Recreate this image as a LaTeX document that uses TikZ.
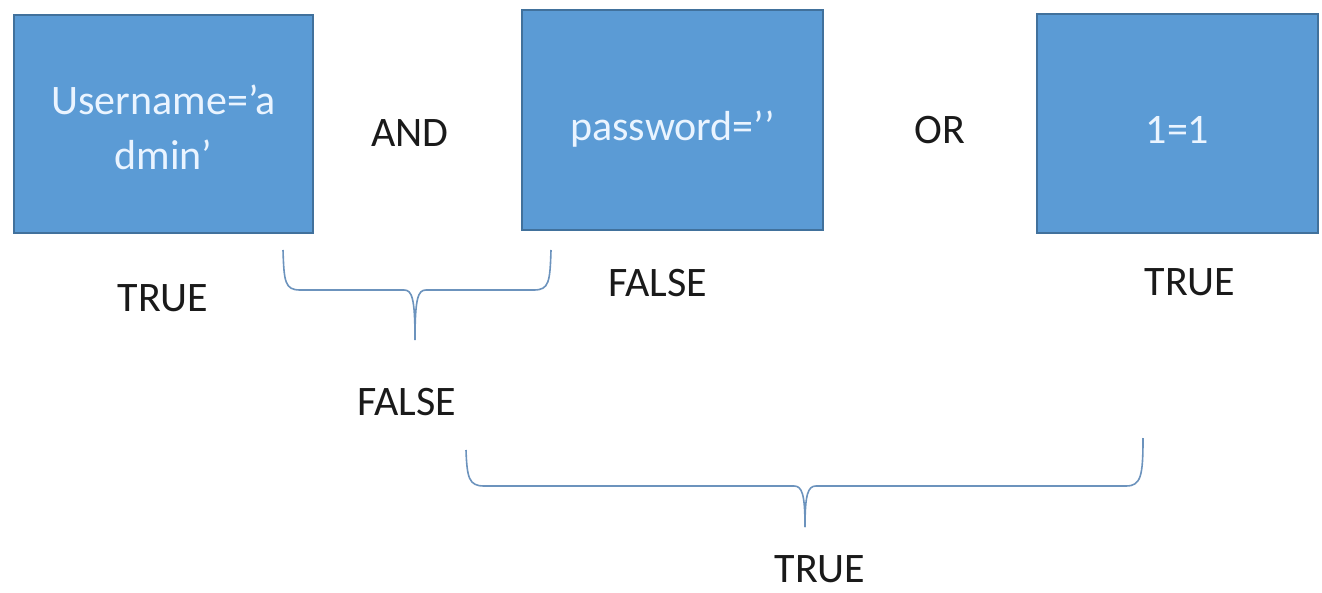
\documentclass[tikz,border=0pt]{standalone}
\usepackage{fontspec}
\setmainfont{Carlito}
\definecolor{boxfill}{HTML}{5B9BD5}
\definecolor{boxline}{HTML}{41719C}
\definecolor{bracecol}{HTML}{6C93BD}
\definecolor{boxtext}{HTML}{EAF4FF}
\definecolor{labeltext}{HTML}{1A1A1A}
\begin{document}
\begin{tikzpicture}[x=1pt,y=-1pt,
  condbox/.style={draw=boxline, line width=2pt, fill=boxfill,
    inner sep=0pt},
  boxlbl/.style={text=boxtext, inner sep=0pt, align=center,
    font=\fontsize{42}{55}\selectfont},
  lbl/.style={text=labeltext, inner sep=0pt, font=\fontsize{42}{50}\selectfont},
  bracket/.style={draw=bracecol, line width=1.6pt, line join=round}]
  \useasboundingbox (0,0) rectangle (1322,593);

  % condition boxes
  \node[condbox, minimum width=299pt, minimum height=218pt] (user) at (163.5,124) {};
  \node[condbox, minimum width=301pt, minimum height=220pt] (pass) at (672.5,120) {};
  \node[condbox, minimum width=281pt, minimum height=219pt] (one) at (1177.5,123.5) {};

  % conditions written inside the boxes
  \node[boxlbl] (usertxt) at ([yshift=-3pt]user.center) {Username=’a\\dmin’};
  \node[boxlbl] (passtxt) at ([yshift=-9pt]pass.center) {password=’’};
  \node[boxlbl] (onetxt) at ([yshift=-6pt]one.center) {1=1};

  % operators
  \node[lbl] (and) at (410,133) {AND};
  \node[lbl] (or) at (940,130) {OR};

  % individual results
  \node[lbl] (t1) at (163,298) {TRUE};
  \node[lbl] (f1) at (658,283) {FALSE};
  \node[lbl] (t2) at (1190,282) {TRUE};

  % combined results
  \node[lbl] (f2) at (407,402) {FALSE};
  \node[lbl] (t3) at (820,569) {TRUE};

  % brace grouping the AND
  \coordinate (b1l) at (283,250);
  \coordinate (b1r) at (551,250);
  \coordinate (b1m) at (415,340);
  \draw[bracket] (b1l) .. controls (284,282) and (285,290) .. (300,290)
    -- (404,290) .. controls (412,290) and (415,298) .. (b1m);
  \draw[bracket] (b1r) .. controls (550,282) and (549,290) .. (534,290)
    -- (426,290) .. controls (418,290) and (415,298) .. (b1m);

  % brace grouping the OR
  \coordinate (b2l) at (466,450);
  \coordinate (b2r) at (1143,438);
  \coordinate (b2m) at (805,527);
  \draw[bracket] (b2l) .. controls (467,478) and (469,486) .. (484,486)
    -- (794,486) .. controls (802,486) and (805,494) .. (b2m);
  \draw[bracket] (b2r) .. controls (1143,476) and (1141,486) .. (1126,486)
    -- (816,486) .. controls (808,486) and (805,494) .. (b2m);
\end{tikzpicture}
\end{document}
